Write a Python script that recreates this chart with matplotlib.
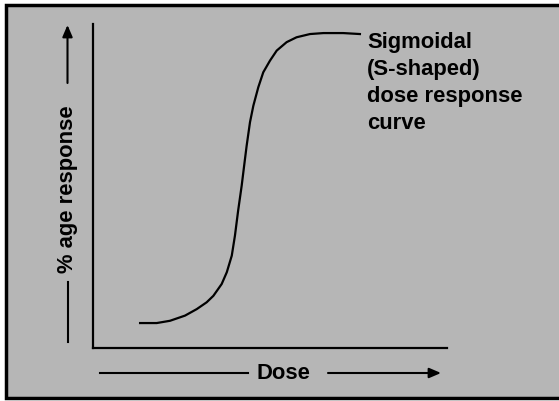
import matplotlib
matplotlib.use('Agg')
import matplotlib.pyplot as plt
from matplotlib.patches import Rectangle

# Curve (dose 0-100, % response 0-100)
dose = [13.3, 18.0, 21.75, 26.0, 29.3, 32.1, 34.0, 36.35, 37.8, 39.2, 40.1, 41.0, 42.0,
        42.7, 43.4, 44.35, 45.3, 46.7, 48.1, 50.0, 51.9, 54.7, 57.5, 61.3, 65.1, 70.7, 75.4]
response = [7.7, 7.7, 8.4, 10.0, 12.0, 14.1, 16.1, 19.75, 23.4, 28.5, 34.7, 42.4, 50.1,
            56.3, 62.4, 69.7, 74.8, 80.5, 85.1, 88.7, 91.8, 94.4, 95.9, 96.9, 97.2, 97.2, 96.9]

label_lines = ['Sigmoidal', '(S-shaped)', 'dose response', 'curve']
x_label = 'Dose'
y_label = '% age response'

plt.rcParams['font.family'] = ['Liberation Sans', 'DejaVu Sans']

fig = plt.figure(figsize=(5.59, 4.02), dpi=100, facecolor='white')

# background layer in pixel coordinates
bg = fig.add_axes([0, 0, 1, 1])
bg.set_xlim(0, 559)
bg.set_ylim(402, 0)
bg.axis('off')
bg.add_patch(Rectangle((6, 6), 560, 392, facecolor='#b6b6b6', edgecolor='none'))
bg.plot([560, 5.5, 5.5, 560], [5.5, 5.5, 398.5, 398.5], color='black', lw=2.5,
        solid_joinstyle='miter')

# axis arrows and labels
arrow = dict(arrowstyle='-|>,head_length=0.7,head_width=0.3', color='black', lw=1.5,
             shrinkA=0, shrinkB=0)
bg.plot([100, 248], [374, 374], color='black', lw=1.5)
bg.annotate('', xy=(441, 374), xytext=(328, 374), arrowprops=arrow)
bg.text(283, 374, x_label, fontsize=15.8, fontweight='bold', ha='center', va='center')

bg.plot([67.5, 67.5], [343, 283], color='black', lw=1.5)
bg.annotate('', xy=(67.5, 26), xytext=(67.5, 84), arrowprops=arrow)
bg.text(67, 189, y_label, fontsize=15.8, fontweight='bold', rotation=90,
        ha='center', va='center')

for i, line in enumerate(label_lines):
    bg.text(367, 48 + i * 27, line, fontsize=15.8, fontweight='bold',
            ha='left', va='baseline')

# the plot itself
ax = fig.add_axes([93 / 559, (402 - 349) / 402, (447 - 93) / 559, (349 - 25) / 402])
ax.patch.set_alpha(0)
ax.plot(dose, response, color='black', lw=1.6)
ax.set_xlim(0, 100)
ax.set_ylim(0, 100)
ax.set_xticks([])
ax.set_yticks([])
for side in ['top', 'right']:
    ax.spines[side].set_visible(False)
for side in ['left', 'bottom']:
    ax.spines[side].set_linewidth(1.6)

fig.savefig('out.png', dpi=100)
